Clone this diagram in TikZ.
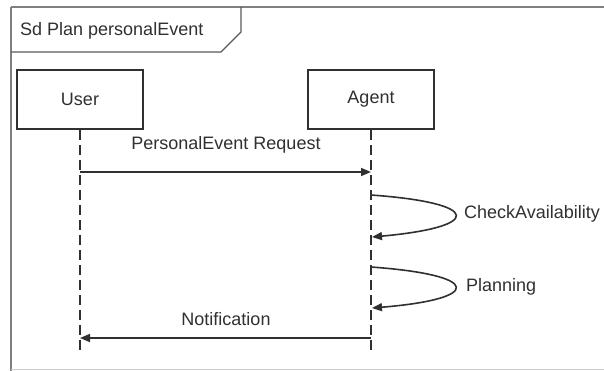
\documentclass[tikz,border=0pt]{standalone}
\usepackage{fontspec}
\setmainfont{Liberation Sans}
\usetikzlibrary{arrows.meta}
\usetikzlibrary{positioning}
\definecolor{framegray}{HTML}{808080}
\definecolor{inkgray}{HTML}{303030}

\tikzset{
  actor/.style={draw=inkgray, line width=1.6pt, minimum width=126pt, minimum height=59pt, inner sep=0pt},
  lifeline/.style={draw=inkgray, line width=1.3pt, dash pattern=on 10pt off 5pt},
  msg/.style={draw=inkgray, line width=1.6pt, -{Triangle[length=10pt,width=8pt]}},
  lbl/.style={text=inkgray, inner sep=0pt},
}

\begin{document}
\begin{tikzpicture}[x=1pt, y=-1pt, line cap=butt, line join=miter,
    every node/.style={font=\fontsize{18}{20}\selectfont}]
  \clip (0,0) rectangle (604,370);
  \fill[white] (0,0) rectangle (604,370);
  %--- Frame
    \draw[framegray, line width=2pt] (11, 7) -- (614, 7);
    \draw[framegray, line width=2pt] (11, 7) -- (11, 375);
    \draw[framegray!40, line width=1.2pt] (11, 369.5) -- (614, 369.5);
    \draw[framegray!70!black, line width=1.4pt] (11, 52) -- (221, 52) -- (241, 32) -- (241, 7);
    \node[lbl, anchor=west] (title) at (20, 31) {Sd Plan personalEvent};
  %--- Lifelines
    \node[actor] (user) at (80, 99.5) {};
    \node[lbl] at (user) {User};
    \node[actor] (agent) at (371, 99.5) {};
    \node[lbl] at (agent) {Agent};
    \coordinate (user-end) at (80, 353);
    \coordinate (agent-end) at (371, 353);
    \draw[lifeline] (user.south) -- (user-end);
    \draw[lifeline] (agent.south) -- (agent-end);
  %--- PersonalEvent Request
    \coordinate (req-from) at (80, 172);
    \coordinate (req-to) at (371, 172);
    \draw[msg] (req-from) -- (req-to);
    \node[lbl] (req) at (226, 145) {PersonalEvent Request};
  %--- CheckAvailability
    \coordinate (chk-from) at (371, 195);
    \coordinate (chk-to) at (372, 237);
    \draw[msg] (chk-from) .. controls (483, 203) and (483, 227) .. (chk-to);
    \node[lbl, anchor=west] (chk) at (464, 214) {CheckAvailability};
  %--- Planning
    \coordinate (plan-from) at (371, 267);
    \coordinate (plan-to) at (372, 308);
    \draw[msg] (plan-from) .. controls (483, 275) and (483, 299) .. (plan-to);
    \node[lbl, anchor=west] (plan) at (466, 287) {Planning};
  %--- Notification
    \coordinate (note-from) at (371, 338);
    \coordinate (note-to) at (80, 338);
    \draw[msg] (note-from) -- (note-to);
    \node[lbl] (note) at (226, 319) {Notification};
\end{tikzpicture}
\end{document}
